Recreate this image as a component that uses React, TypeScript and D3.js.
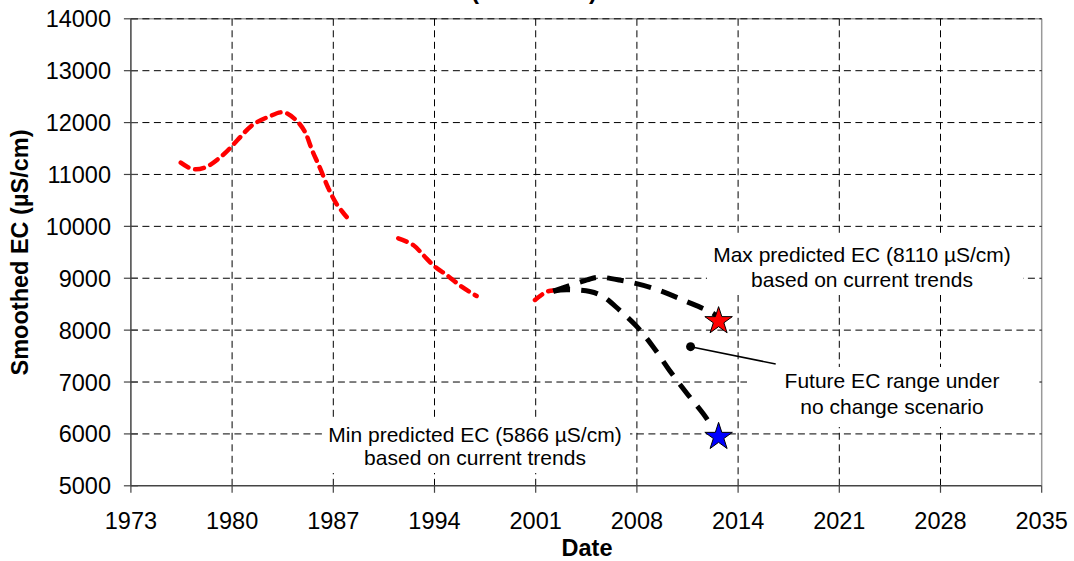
import React from 'react';
import * as d3 from 'd3';

// ---- data ----
const xTickLabels = ['1973', '1980', '1987', '1994', '2001', '2008', '2014', '2021', '2028', '2035'];
const xTickStart = 1973.5;
const xTickStep = 6.9;
const yTicks = [5000, 6000, 7000, 8000, 9000, 10000, 11000, 12000, 13000, 14000];

// observed smoothed EC (null = gap in record)
const observedYears = [
  1976.9, 1977.7, 1978.55, 1979.85, 1980.77, 1981.79, 1982.85, 1983.89, 1984.75, 1985.37, 1985.85, 1986.39, 1986.94, 1987.48, 1987.96, 1988.3,
  1990.0,
  1991.73, 1992.75, 1993.43, 1994.23, 1995.03, 1996.05, 1997.07,
  1999.0,
  2001.05, 2001.85, 2002.28,
];
const observedEC: (number | null)[] = [
  11227, 11105, 11134, 11394, 11664, 11953, 12107, 12198, 12050, 11818, 11471, 11125, 10749, 10450, 10267, 10151,
  null,
  9770, 9641, 9448, 9222, 9062, 8837, 8658,
  null,
  8581, 8741, 8764,
];

// projected trends
const maxTrendYears = [2002.3, 2004.6, 2005.3, 2006.8, 2009.1, 2011.4, 2013.2, 2013.45];
const maxTrendEC = [8750, 8967, 9018, 8967, 8807, 8549, 8324, 8270];
const minTrendYears = [2002.3, 2002.8, 2004.8, 2005.7, 2006.8, 2008.0, 2009.1, 2010.2, 2011.4, 2012.5, 2013.2];
const minTrendEC = [8750, 8775, 8744, 8645, 8389, 8067, 7682, 7233, 6784, 6398, 6113];

const maxStar = { year: 2013.57, ec: 8174 };
const minStar = { year: 2013.57, ec: 5944 };
const dotPoint = { year: 2011.66, ec: 7681 };

const W = 1074;
const H = 561;
const left = 130.9;
const right = 1041.7;
const top = 18.8;
const bottom = 485.8;
const FONT = '"Liberation Sans", Arial, Helvetica, sans-serif';

export default function App() {
  const xTicks = xTickLabels.map((_, i) => xTickStart + i * xTickStep);
  const x = d3.scaleLinear().domain([xTicks[0], xTicks[xTicks.length - 1]]).range([left, right]);
  const y = d3.scaleLinear().domain([5000, 14000]).range([bottom, top]);

  const obsData = observedYears.map((yr, i) => ({ yr, ec: observedEC[i] }));
  const obsLine = d3
    .line<{ yr: number; ec: number | null }>()
    .defined((d) => d.ec !== null)
    .x((d) => x(d.yr))
    .y((d) => y(d.ec as number))
    .curve(d3.curveCatmullRom.alpha(0.5));

  const trendLine = d3
    .line<[number, number]>()
    .x((d) => x(d[0]))
    .y((d) => y(d[1]))
    .curve(d3.curveCatmullRom.alpha(0.5));

  const maxData: [number, number][] = maxTrendYears.map((yr, i) => [yr, maxTrendEC[i]]);
  const minData: [number, number][] = minTrendYears.map((yr, i) => [yr, minTrendEC[i]]);

  const star = d3.symbol().type(d3.symbolStar).size(235)() as string;

  const dx = x(dotPoint.year);
  const dy = y(dotPoint.ec);

  return (
    <svg
      width={W}
      height={H}
      style={{ position: 'absolute', left: 0, top: 0, display: 'block', background: '#fff' }}
      fontFamily={FONT}
    >
      <rect x={0} y={0} width={W} height={H} fill="#fff" />
      {/* clipped title */}
      <text x={475} y={-1} fontSize={24} fontWeight="bold" textAnchor="middle">(</text>
      <text x={593} y={-1} fontSize={24} fontWeight="bold" textAnchor="middle">)</text>

      {/* plot border top/right */}
      <line x1={left} x2={right} y1={top} y2={top} stroke="#999" strokeWidth={1.5} />
      <line x1={right} x2={right} y1={top} y2={bottom} stroke="#999" strokeWidth={1.5} />

      {/* gridlines */}
      {yTicks.slice(1).map((t) => (
        <line key={'gy' + t} x1={left} x2={right} y1={y(t)} y2={y(t)} stroke="#000" strokeWidth={1} strokeDasharray="7,4.5" />
      ))}
      {xTicks.slice(1, -1).map((t, i) => (
        <line key={'gx' + i} x1={x(t)} x2={x(t)} y1={top} y2={bottom} stroke="#000" strokeWidth={1} strokeDasharray="7,4.5" />
      ))}

      {/* axes */}
      <line x1={left} x2={left} y1={top} y2={bottom} stroke="#444" strokeWidth={1.5} />
      <line x1={left} x2={right} y1={bottom} y2={bottom} stroke="#444" strokeWidth={1.5} />
      {yTicks.map((t) => (
        <g key={'ty' + t}>
          <line x1={left - 7} x2={left + 7} y1={y(t)} y2={y(t)} stroke="#444" strokeWidth={1.2} />
          <text x={111} y={y(t) + 8.5} fontSize={23.5} textAnchor="end" fill="#000">{t}</text>
        </g>
      ))}
      {xTicks.map((t, i) => (
        <g key={'tx' + i}>
          <line x1={x(t)} x2={x(t)} y1={bottom} y2={bottom + 7} stroke="#444" strokeWidth={1.2} />
          <text x={x(t)} y={529.3} fontSize={23.5} textAnchor="middle" fill="#000">{xTickLabels[i]}</text>
        </g>
      ))}

      {/* axis titles */}
      <text x={587} y={556} fontSize={23.5} fontWeight="bold" textAnchor="middle">Date</text>
      <text
        transform="translate(28,252.5) rotate(-90)"
        fontSize={23.5}
        fontWeight="bold"
        textAnchor="middle"
      >
        Smoothed EC (µS/cm)
      </text>

      {/* annotation text boxes (white background hides gridlines) */}
      <rect x={707} y={237} width={316} height={58} fill="#fff" />
      <rect x={747} y={367} width={290} height={60} fill="#fff" />
      <rect x={322} y={420} width={308} height={53} fill="#fff" />

      {/* observed */}
      <path
        d={obsLine(obsData) as string}
        fill="none"
        stroke="#ff0000"
        strokeWidth={4.5}
        strokeLinecap="round"
        strokeDasharray="9,7"
      />
      {/* trends */}
      <path d={trendLine(maxData) as string} fill="none" stroke="#000" strokeWidth={5} strokeDasharray="17,11" />
      <path d={trendLine(minData) as string} fill="none" stroke="#000" strokeWidth={5} strokeDasharray="17,11" />

      {/* stars */}
      <path d={star} transform={`translate(${x(maxStar.year)},${y(maxStar.ec)})`} fill="#ff0000" stroke="#000" strokeWidth={1} />
      <path d={star} transform={`translate(${x(minStar.year)},${y(minStar.ec)})`} fill="#0000ff" stroke="#000" strokeWidth={1} />

      {/* callout */}
      <line x1={dx} y1={dy} x2={775.7} y2={364} stroke="#000" strokeWidth={1.5} />
      <circle cx={dx} cy={dy} r={4.5} fill="#000" />

      {/* annotations */}
      <g fontSize={21} textAnchor="middle" fill="#000">
        <text x={862} y={261.7}>Max predicted EC (8110 µS/cm)</text>
        <text x={862} y={286.7}>based on current trends</text>
        <text x={892} y={388.3}>Future EC range under</text>
        <text x={892} y={414.3}>no change scenario</text>
        <text x={475} y={441.7}>Min predicted EC (5866 µS/cm)</text>
        <text x={475} y={465}>based on current trends</text>
      </g>
    </svg>
  );
}
